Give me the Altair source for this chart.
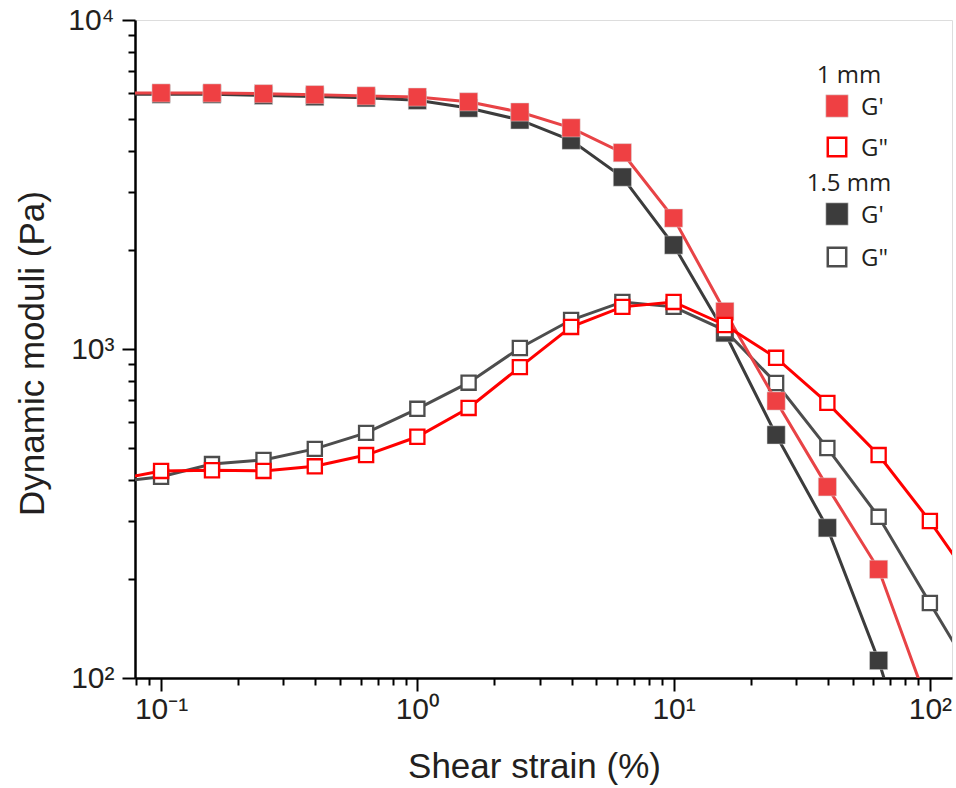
import altair as alt
import pandas as pd

# ---- data ----
strain = [0.0631, 0.1, 0.158, 0.251, 0.398, 0.631, 1.0, 1.585, 2.512, 3.981,
          6.31, 10.0, 15.85, 25.12, 39.81, 63.1, 100.0, 158.5]
g_store_1mm = [6000, 6000, 6000, 5970, 5930, 5880, 5830, 5640, 5250, 4700,
               3950, 2500, 1300, 695, 381, 214, 80, None]
g_loss_1mm = [397, 426, 428, 426, 440, 476, 541, 662, 881, 1167,
              1343, 1390, 1183, 940, 686, 476, 300, 179]
g_store_15mm = [5950, 5950, 5950, 5900, 5850, 5800, 5700, 5400, 4970, 4310,
                3330, 2070, 1120, 548, 286, 113, 35, None]
g_loss_15mm = [392, 409, 447, 460, 497, 556, 658, 790, 1007, 1225,
               1390, 1343, 1140, 788, 500, 309, 169, 93]

x_tick_values = [0.08, 0.09] + [round(0.1 * k, 2) for k in range(1, 10)] + \
    [float(k) for k in range(1, 10)] + [10.0 * k for k in range(1, 10)] + [100.0]
x_decades = [0.1, 1.0, 10.0, 100.0]
x_decade_labels = ["10⁻¹", "10⁰", "10¹", "10²"]
y_tick_values = [100.0 * k for k in range(1, 10)] + [1000.0 * k for k in range(1, 11)]
y_decades = [100.0, 1000.0, 10000.0]
y_decade_labels = ["10²", "10³", "10⁴"]

legend_groups = ["1 mm", "1.5 mm"]
legend_items = ["G'", 'G"']

INK = "#231F20"
FONT = "Open Sans"


def label_expr(vals, labs):
    e = "''"
    for v, l in zip(reversed(vals), reversed(labs)):
        e = f"datum.value == {v} ? '{l}' : {e}"
    return e


def decade_test(vals):
    return "indexof([" + ",".join(str(v) for v in vals) + "], datum.value) >= 0"


x_enc = alt.X(
    "strain:Q",
    scale=alt.Scale(type="log", domain=[0.0791, 122], nice=False),
    axis=alt.Axis(
        values=x_tick_values,
        labelExpr=label_expr(x_decades, x_decade_labels),
        tickSize={"condition": {"test": decade_test(x_decades), "value": 13}, "value": 7},
        tickWidth=2, tickColor="black", domainColor="black", domainWidth=2.5,
        labelFontSize=30, labelColor=INK, labelPadding=3, labelOverlap=False,
        labelFlush=False, labelBaseline="top",
        grid=False, title="Shear strain (%)", titleFontSize=35,
        titleFontWeight="normal", titleColor=INK, titleX=399, titleY=99,
        titleAlign="center", titleBaseline="alphabetic",
    ),
)
y_enc = alt.Y(
    "value:Q",
    scale=alt.Scale(type="log", domain=[100, 10000], nice=False),
    axis=alt.Axis(
        values=y_tick_values,
        labelExpr=label_expr(y_decades, y_decade_labels),
        tickSize={"condition": {"test": decade_test(y_decades), "value": 13}, "value": 7},
        tickWidth=2, tickColor="black", domainColor="black", domainWidth=2.5,
        labelFontSize=30, labelColor=INK, labelPadding=8, labelOverlap=False,
        labelFlush=False, grid=False,
        title="Dynamic moduli (Pa)", titleFontSize=35, titleFontWeight="normal",
        titleColor=INK, titleX=-92, titleY=333, titleAngle=-90,
        titleAlign="center", titleBaseline="alphabetic",
    ),
)

# series: values, line colour, marker style, marker colour
series = [
    (g_store_15mm, "#3C3C3C", "filled", "#3C3C3C"),
    (g_loss_15mm, "#4D4D4D", "open", "#4D4D4D"),
    (g_store_1mm, "#E84346", "filled", "#EF4043"),
    (g_loss_1mm, "#FF0000", "open", "#FF0000"),
]

layers = []
for vals, lcol, style, mcol in series:
    df = pd.DataFrame({"strain": strain, "value": vals}).dropna()
    base = alt.Chart(df).encode(x=x_enc, y=y_enc)
    layers.append(base.mark_line(color=lcol, strokeWidth=3, clip=True))
    if style == "filled":
        layers.append(base.mark_point(shape="square", filled=True, fill=mcol,
                                      stroke="#d8d8d8", strokeWidth=0.5,
                                      size=330, opacity=1, clip=True))
    else:
        layers.append(base.mark_point(shape="square", filled=True, fill="white",
                                      stroke=mcol, strokeWidth=2.3,
                                      size=200, opacity=1, clip=True))

# ---- hand-built legend ----
one = pd.DataFrame({"k": [0]})
header_y = [63, 171]
item_y = [[86, 127], [194, 237]]
item_colors = [("#EF4043", "#FF0000"), ("#3C3C3C", "#4D4D4D")]
for gi, grp in enumerate(legend_groups):
    layers.append(alt.Chart(one).mark_text(
        text=grp, font=FONT, fontSize=24, color=INK, align="center",
        baseline="alphabetic").encode(x=alt.value(714), y=alt.value(header_y[gi])))
    for ii, lab in enumerate(legend_items):
        yy = item_y[gi][ii]
        if ii == 0:
            sym = alt.Chart(one).mark_point(shape="square", filled=True,
                                            fill=item_colors[gi][0], stroke="#d8d8d8",
                                            strokeWidth=0.6, size=500, opacity=1)
        else:
            sym = alt.Chart(one).mark_point(shape="square", filled=True, fill="white",
                                            stroke=item_colors[gi][1], strokeWidth=2.5,
                                            size=340, opacity=1)
        layers.append(sym.encode(x=alt.value(702), y=alt.value(yy)))
        layers.append(alt.Chart(one).mark_text(
            text=lab, font=FONT, fontSize=24, color=INK, align="left",
            baseline="alphabetic").encode(x=alt.value(726), y=alt.value(yy + 9)))

chart = alt.layer(*layers).properties(
    width=817, height=658,
    autosize=alt.AutoSizeParams(type="none"),
    padding={"left": 135, "top": 20, "right": 4, "bottom": 110},
).configure_view(stroke=None).configure_axis(
    labelFont=FONT, titleFont=FONT
).configure(background="white")

chart.save("out.html", embed_options={"renderer": "svg", "actions": False})
